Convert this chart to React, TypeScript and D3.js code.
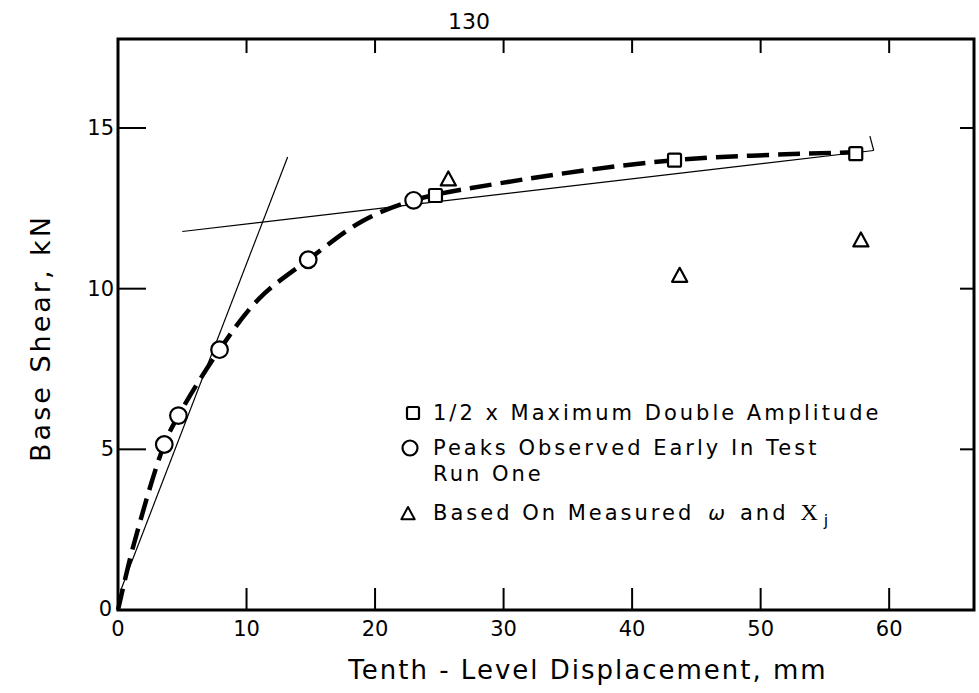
import React, { useRef, useEffect } from 'react';
import * as d3 from 'd3';

// values (displacement mm, base shear kN)
const squares: [number, number][] = [[24.7, 12.9], [43.3, 14.0], [57.4, 14.2]];
const circles: [number, number][] = [[3.6, 5.15], [4.7, 6.05], [7.9, 8.1], [14.8, 10.9], [23.0, 12.75]];
const triangles: [number, number][] = [[25.7, 13.4], [43.7, 10.4], [57.8, 11.5]];

// hand-fitted dashed curve
const fitCurve: [number, number][] = [
  [0, 0], [1.2, 2.0], [3.6, 5.15], [4.7, 6.05], [7.9, 8.1], [11.0, 9.7],
  [14.8, 10.9], [19.0, 12.1], [23.0, 12.75], [30.0, 13.3], [43.3, 14.0], [57.8, 14.25],
];

// thin construction lines
const initialSlope: [number, number][] = [[0.2, 0.6], [13.2, 14.1]];
const yieldLine: [number, number][] = [[5.0, 11.78], [58.8, 14.3]];
const yieldTick: [number, number][] = [[58.8, 14.3], [58.5, 14.75]];

const xTicks = [10, 20, 30, 40, 50, 60];
const xLabels = [0, 10, 20, 30, 40, 50, 60];
const yTicks = [5, 10, 15];
const yLabels = [0, 5, 10, 15];

const legendRows = [
  { kind: 'square', text: '1/2 x Maximum Double Amplitude' },
  { kind: 'circle', text: 'Peaks Observed Early In Test' },
  { kind: 'none', text: 'Run One' },
  { kind: 'triangle', text: 'Based On Measured' },
];

const FONT = '"DejaVu Sans", sans-serif';

const App: React.FC = () => {
  const ref = useRef<SVGSVGElement | null>(null);

  useEffect(() => {
    if (!ref.current) return;
    const svg = d3.select(ref.current);
    svg.selectAll('*').remove();

    const width = 979;
    const height = 693;
    const plot = { left: 118, right: 974, top: 39, bottom: 610 };

    svg.attr('width', width).attr('height', height);

    const x = d3.scaleLinear().domain([0, 66.6]).range([plot.left, plot.right]);
    const y = d3.scaleLinear().domain([0, 17.77]).range([plot.bottom, plot.top]);

    // frame
    svg.append('rect')
      .attr('x', plot.left).attr('y', plot.top)
      .attr('width', plot.right - plot.left).attr('height', plot.bottom - plot.top)
      .attr('fill', 'none').attr('stroke', '#000').attr('stroke-width', 3);

    // ticks (inward)
    const g = svg.append('g').attr('stroke', '#000').attr('stroke-width', 2);
    xTicks.forEach(t => {
      g.append('line').attr('x1', x(t)).attr('x2', x(t)).attr('y1', plot.bottom).attr('y2', plot.bottom - 22);
      g.append('line').attr('x1', x(t)).attr('x2', x(t)).attr('y1', plot.top).attr('y2', plot.top + 14);
    });
    yTicks.forEach(t => {
      g.append('line').attr('x1', plot.left).attr('x2', plot.left + 28).attr('y1', y(t)).attr('y2', y(t));
      g.append('line').attr('x1', plot.right).attr('x2', plot.right - 14).attr('y1', y(t)).attr('y2', y(t));
    });

    // tick labels
    svg.append('g').selectAll('text').data(xLabels).enter().append('text')
      .attr('x', d => x(d)).attr('y', 636)
      .attr('text-anchor', 'middle')
      .attr('font-family', FONT).attr('font-size', 21)
      .text(d => String(d));

    svg.append('g').selectAll('text').data(yLabels).enter().append('text')
      .attr('x', d => (d === 0 ? 112 : 114)).attr('y', d => (d === 0 ? y(d) + 6 : y(d) + 7))
      .attr('text-anchor', 'end')
      .attr('font-family', FONT).attr('font-size', 21)
      .text(d => String(d));

    // axis titles
    svg.append('text')
      .attr('x', 588).attr('y', 679)
      .attr('text-anchor', 'middle')
      .attr('font-family', FONT).attr('font-size', 26).attr('letter-spacing', 2)
      .text('Tenth - Level Displacement, mm');

    svg.append('text')
      .attr('transform', `translate(50,338) rotate(-90)`)
      .attr('text-anchor', 'middle')
      .attr('font-family', FONT).attr('font-size', 27).attr('letter-spacing', 3)
      .text('Base Shear,  kN');

    // page number
    svg.append('text')
      .attr('x', 469).attr('y', 29)
      .attr('text-anchor', 'middle')
      .attr('font-family', FONT).attr('font-size', 22)
      .text('130');

    const line = d3.line<[number, number]>().x(d => x(d[0])).y(d => y(d[1]));

    // thin lines
    [initialSlope, yieldLine, yieldTick].forEach(seg => {
      svg.append('path').attr('d', line(seg)).attr('fill', 'none')
        .attr('stroke', '#000').attr('stroke-width', 1.2);
    });

    // dashed fit
    const curve = d3.line<[number, number]>().x(d => x(d[0])).y(d => y(d[1])).curve(d3.curveCatmullRom.alpha(0.5));
    svg.append('path').attr('d', curve(fitCurve)).attr('fill', 'none')
      .attr('stroke', '#000').attr('stroke-width', 4.5)
      .attr('stroke-dasharray', '22 9');

    const markStyle = (s: d3.Selection<any, any, any, any>) =>
      s.attr('fill', '#fff').attr('stroke', '#000').attr('stroke-width', 2.2);

    const tri = (cx: number, cy: number, r: number) =>
      `M${cx},${cy - r}L${cx + r * 0.95},${cy + r * 0.75}L${cx - r * 0.95},${cy + r * 0.75}Z`;

    svg.append('g').selectAll('circle').data(circles).enter().append('circle')
      .attr('cx', d => x(d[0])).attr('cy', d => y(d[1])).attr('r', 8.3)
      .call(markStyle);

    svg.append('g').selectAll('rect').data(squares).enter().append('rect')
      .attr('x', d => x(d[0]) - 6.5).attr('y', d => y(d[1]) - 6.5)
      .attr('width', 13).attr('height', 13).attr('rx', 1.5)
      .call(markStyle);

    svg.append('g').selectAll('path').data(triangles).enter().append('path')
      .attr('d', d => tri(x(d[0]), y(d[1]), 8))
      .attr('fill', 'none').attr('stroke', '#000').attr('stroke-width', 2.2).attr('stroke-linejoin', 'round');

    // legend
    const lg = svg.append('g');
    const rowY = [413, 448, 474, 513];
    legendRows.forEach((r, i) => {
      const cy = rowY[i];
      if (r.kind === 'square') {
        lg.append('rect').attr('x', 407).attr('y', cy - 6).attr('width', 12).attr('height', 12)
          .attr('rx', 1.5).call(markStyle);
      } else if (r.kind === 'circle') {
        lg.append('circle').attr('cx', 410).attr('cy', cy).attr('r', 7.5).call(markStyle);
      } else if (r.kind === 'triangle') {
        lg.append('path').attr('d', tri(408, cy + 1, 7)).attr('fill', 'none')
          .attr('stroke', '#000').attr('stroke-width', 2).attr('stroke-linejoin', 'round');
      }
      const t = lg.append('text')
        .attr('x', 433).attr('y', cy + 7)
        .attr('font-family', FONT).attr('font-size', 21).attr('letter-spacing', 3)
        .text(r.text);
      if (r.kind === 'triangle') {
        t.append('tspan').attr('dx', 14).attr('font-size', 20).attr('font-style', 'italic').text('ω');
        t.append('tspan').attr('dx', 12).text('and');
        t.append('tspan').attr('dx', 12).attr('font-family', '"Liberation Serif", serif').attr('font-size', 24).text('X');
        t.append('tspan').attr('dx', 3).attr('dy', 6).attr('font-size', 16).text('j');
      }
    });
  }, []);

  return (
    <div style={{ position: 'absolute', left: 0, top: 0 }}>
      <svg ref={ref}></svg>
    </div>
  );
};

export default App;
